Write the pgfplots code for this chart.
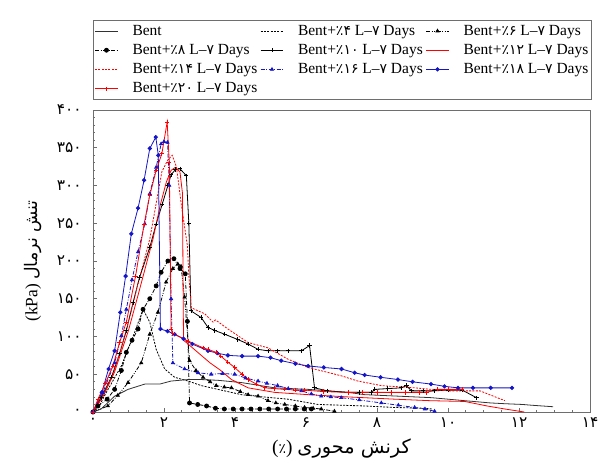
\documentclass[border=0pt]{standalone}
\usepackage{fontspec}
\setmainfont{Liberation Serif}
\newfontfamily\arabicfont[Script=Arabic]{DejaVu Sans}
\TeXXeTstate=1
\usepackage{pgfplots}
\pgfplotsset{compat=1.18}
\definecolor{myblue}{RGB}{20,20,200}
\definecolor{myred}{RGB}{255,0,0}
\definecolor{mygray}{RGB}{50,50,50}
\definecolor{framegray}{RGB}{110,110,110}
\newcommand{\ar}[1]{\smash{\arabicfont\fontsize{10.5}{12}\selectfont #1}}
\begin{document}
\begin{tikzpicture}
\begin{axis}[
  width=372.75pt, height=226.5pt, scale only axis,
  xmin=0, xmax=14, ymin=0, ymax=400,
  xtick={0,2,...,14}, xticklabels={۰,۲,۴,۶,۸,۱۰,۱۲,۱۴},
  ytick={0,50,...,400}, yticklabels={۰,۵۰,۱۰۰,۱۵۰,۲۰۰,۲۵۰,۳۰۰,۳۵۰,۴۰۰},
  minor x tick num=3, minor y tick num=4,
  tick pos=left, tick align=inside,
  major tick length=3pt, minor tick length=1.6pt,
  axis line style={framegray, line width=0.6pt},
  every tick/.style={framegray, line width=0.5pt},
  ticklabel style={font=\arabicfont\fontsize{11.5}{13}\selectfont},
  yticklabel style={xshift=-5pt},
  xticklabel style={yshift=-1pt},
  xlabel={(\ar{٪}) {\arabicfont\beginR کرنش محوری\endR}},
  ylabel={(kPa) {\arabicfont\beginR تنش نرمال\endR}},
  xlabel style={at={(axis description cs:0.5,-0.12)}, anchor=center, font=\fontsize{14.5}{16}\selectfont},
  ylabel style={at={(axis description cs:-0.121,0.5)}, anchor=center, font=\fontsize{13}{15}\selectfont},
  legend columns=3,
  legend cell align=left,
  legend style={at={(axis description cs:0,1.033)}, anchor=south west, draw=framegray, line width=0.6pt,
    font=\fontsize{11.6}{13}\selectfont, inner sep=1pt,
    nodes={inner sep=1.2pt, text height=9pt, text depth=3pt},
    /tikz/every even column/.append style={column sep=1pt},
    /tikz/every odd column/.append style={column sep=9.5pt}},
  every axis plot/.append style={line width=0.6pt},
  clip=true,
]
% Bent
\addplot[mygray, solid] coordinates {(0,0)(0.23,4)(0.61,21)(0.99,30)(1.46,37)(1.88,37)(2.2,41)(2.68,43)(3.05,43)(3.52,42)(4.18,39)(5.12,32)(6.06,30)(7.18,26)(7.65,23)(8.6,21)(9.53,19)(10.0,17)(10.47,15)(11.2,12)(11.6,11)(12.1,10)(12.35,9)(12.96,7)};
\addlegendentry{Bent}
% 4
\addplot[black, dash pattern=on 1.5pt off 1pt] coordinates {(0,0)(0.15,6)(0.4,28)(0.8,61)(1.17,105)(1.41,136)(1.6,119)(1.78,83)(2.02,57)(2.3,46)(2.68,41)(3.05,35)(3.52,30)(4.18,23)(4.8,20)(5.49,17)(6.34,10)(7.0,9)(7.65,8)(8.5,6)(9.34,5)(9.55,4)};
\addlegendentry{Bent+\ar{٪۴} L–\ar{۷} Days}
% 6
\addplot[black, dash pattern=on 3pt off 1.2pt on 0.6pt off 1.2pt on 0.6pt off 1.2pt, mark=triangle*, mark size=1.3pt, mark options={solid}] coordinates {(0,0)(0.42,8)(0.7,22)(0.99,39)(1.36,65)(1.6,103)(1.83,132)(2.06,172)(2.25,190)(2.39,196)(2.48,193)(2.58,152)(2.72,68)(2.9,55)(3.1,46)(3.3,40)(3.47,35)(3.7,33)(3.9,32)(4.15,27)(4.37,23)(4.65,21)(4.93,15)(5.15,12)(5.4,10)(5.7,8)(5.96,6)(6.2,5)(6.43,4)(6.8,1)};
\addlegendentry{Bent+\ar{٪۶} L–\ar{۷} Days}
% 8
\addplot[black, dash pattern=on 3pt off 1.2pt on 0.6pt off 1.2pt, mark=*, mark size=1.5pt, mark options={solid}] coordinates {(0,0)(0.14,8)(0.4,17)(0.61,30)(0.8,55)(0.94,79)(1.1,95)(1.27,110)(1.41,136)(1.6,150)(1.78,167)(1.92,185)(2.11,200)(2.28,203)(2.45,190)(2.6,183)(2.66,120)(2.72,12)(2.95,10)(3.2,8)(3.45,5)(3.7,4)(3.95,4)(4.2,4)(4.45,4)(4.7,4)(4.95,4)(5.2,4)(5.45,4)(5.7,4)(5.95,4)(6.15,4)};
\addlegendentry{Bent+\ar{٪۸} L–\ar{۷} Days}
% 10
\addplot[black, solid, mark=+, mark size=1.6pt] coordinates {(0,0)(0.23,19)(0.52,46)(0.75,77)(0.94,108)(1.13,145)(1.31,178)(1.6,218)(1.78,249)(1.95,275)(2.11,300)(2.2,314)(2.32,321)(2.45,322)(2.63,313)(2.7,250)(2.76,134)(3.05,125)(3.24,112)(3.43,108)(3.71,103)(4.08,96)(4.37,90)(4.65,83)(4.93,81)(5.2,81)(5.49,81)(5.87,81)(6.1,88)(6.24,32)(6.6,28)(7.18,26)(7.5,26)(7.84,26)(7.94,30)(8.3,31)(8.68,32)(8.83,35)(8.97,28)(9.3,28)(9.62,28)(10.0,29)(10.4,29)(10.8,19)};
\addlegendentry{Bent+\ar{٪۱۰} L–\ar{۷} Days}
% 12
\addplot[myred, solid] coordinates {(0,0)(0.3,22)(0.6,52)(1.0,108)(1.3,160)(1.69,229)(1.9,275)(2.07,305)(2.2,320)(2.32,324)(2.45,318)(2.52,290)(2.55,95)(2.68,90)(3.05,75)(3.3,65)(3.6,55)(3.9,43)(4.37,32)(5.12,26)(6.06,23)(7.18,20)(8.5,17)(9.5,15)(10.47,14)(11.1,8)(11.6,4)(12.15,0)};
\addlegendentry{Bent+\ar{٪۱۲} L–\ar{۷} Days}
% 14
\addplot[myred, dash pattern=on 1.5pt off 1pt] coordinates {(0,0)(0.3,22)(0.6,55)(0.9,101)(1.27,170)(1.6,229)(1.94,318)(2.1,333)(2.23,340)(2.35,325)(2.49,274)(2.66,220)(2.7,180)(2.77,138)(3.15,130)(3.38,119)(3.45,122)(3.8,110)(4.37,92)(4.93,85)(5.49,70)(6.06,59)(6.99,48)(7.46,41)(8.12,35)(9.06,32)(10.0,28)(10.9,28)(11.6,15)};
\addlegendentry{Bent+\ar{٪۱۴} L–\ar{۷} Days}
% 16
\addplot[myblue, dash pattern=on 3pt off 1.2pt on 0.6pt off 1.2pt, mark=triangle*, mark size=1.3pt, mark options={solid}] coordinates {(0,0)(0.28,26)(0.61,65)(0.8,101)(0.94,136)(1.1,175)(1.27,212)(1.46,249)(1.6,289)(1.78,324)(1.92,355)(2.0,358)(2.1,357)(2.15,300)(2.2,150)(2.25,65)(2.58,57)(2.96,52)(3.33,50)(3.65,51)(3.99,50)(4.3,45)(4.65,41)(4.9,38)(5.2,35)(5.5,31)(5.87,28)(6.15,24)(6.43,21)(6.7,20)(6.99,19)(7.5,16)(8.12,12)(8.6,9)(9.06,6)(9.35,4)(9.62,1)};
\addlegendentry{Bent+\ar{٪۱۶} L–\ar{۷} Days}
% 18
\addplot[myblue, solid, mark=*, mark size=1.3pt] coordinates {(0,0)(0.25,26)(0.44,57)(0.61,81)(0.77,132)(0.92,180)(1.08,236)(1.27,270)(1.44,307)(1.6,349)(1.77,364)(1.84,340)(1.9,110)(2.1,107)(2.3,103)(2.55,97)(2.8,90)(3.24,81)(3.5,78)(3.8,75)(4.2,74)(4.65,74)(5.0,72)(5.3,68)(5.7,64)(6.06,61)(6.5,59)(7.0,57)(7.37,52)(7.65,49)(8.1,46)(8.59,43)(9.0,40)(9.52,37)(9.9,34)(10.28,32)(10.7,32)(11.2,32)(11.8,32)};
\addlegendentry{Bent+\ar{٪۱۸} L–\ar{۷} Days}
% 20
\addplot[myred, solid, mark=+, mark size=1.6pt] coordinates {(0,0)(0.14,17)(0.35,38)(0.56,61)(0.75,92)(0.94,119)(1.2,180)(1.44,249)(1.6,287)(1.78,320)(1.94,342)(2.09,384)(2.15,330)(2.2,110)(2.25,104)(2.68,94)(3.1,85)(3.24,83)(3.47,79)(3.6,74)(3.8,66)(3.99,59)(4.2,50)(4.37,43)(4.6,37)(4.84,32)(5.1,31)(5.4,30)(5.7,29)(5.96,29)(6.5,27)(7.2,26)(7.6,26)(8.0,26)(8.4,26)(8.8,26)(9.2,26)(9.4,26)(9.7,30)(10.0,30)(10.4,30)};
\addlegendentry{Bent+\ar{٪۲۰} L–\ar{۷} Days}
\coordinate (bl) at (rel axis cs:-0.187,-0.199);
\coordinate (tr) at (rel axis cs:1.028,1.364);
\end{axis}
\path (bl) rectangle (tr);
\end{tikzpicture}
\end{document}
